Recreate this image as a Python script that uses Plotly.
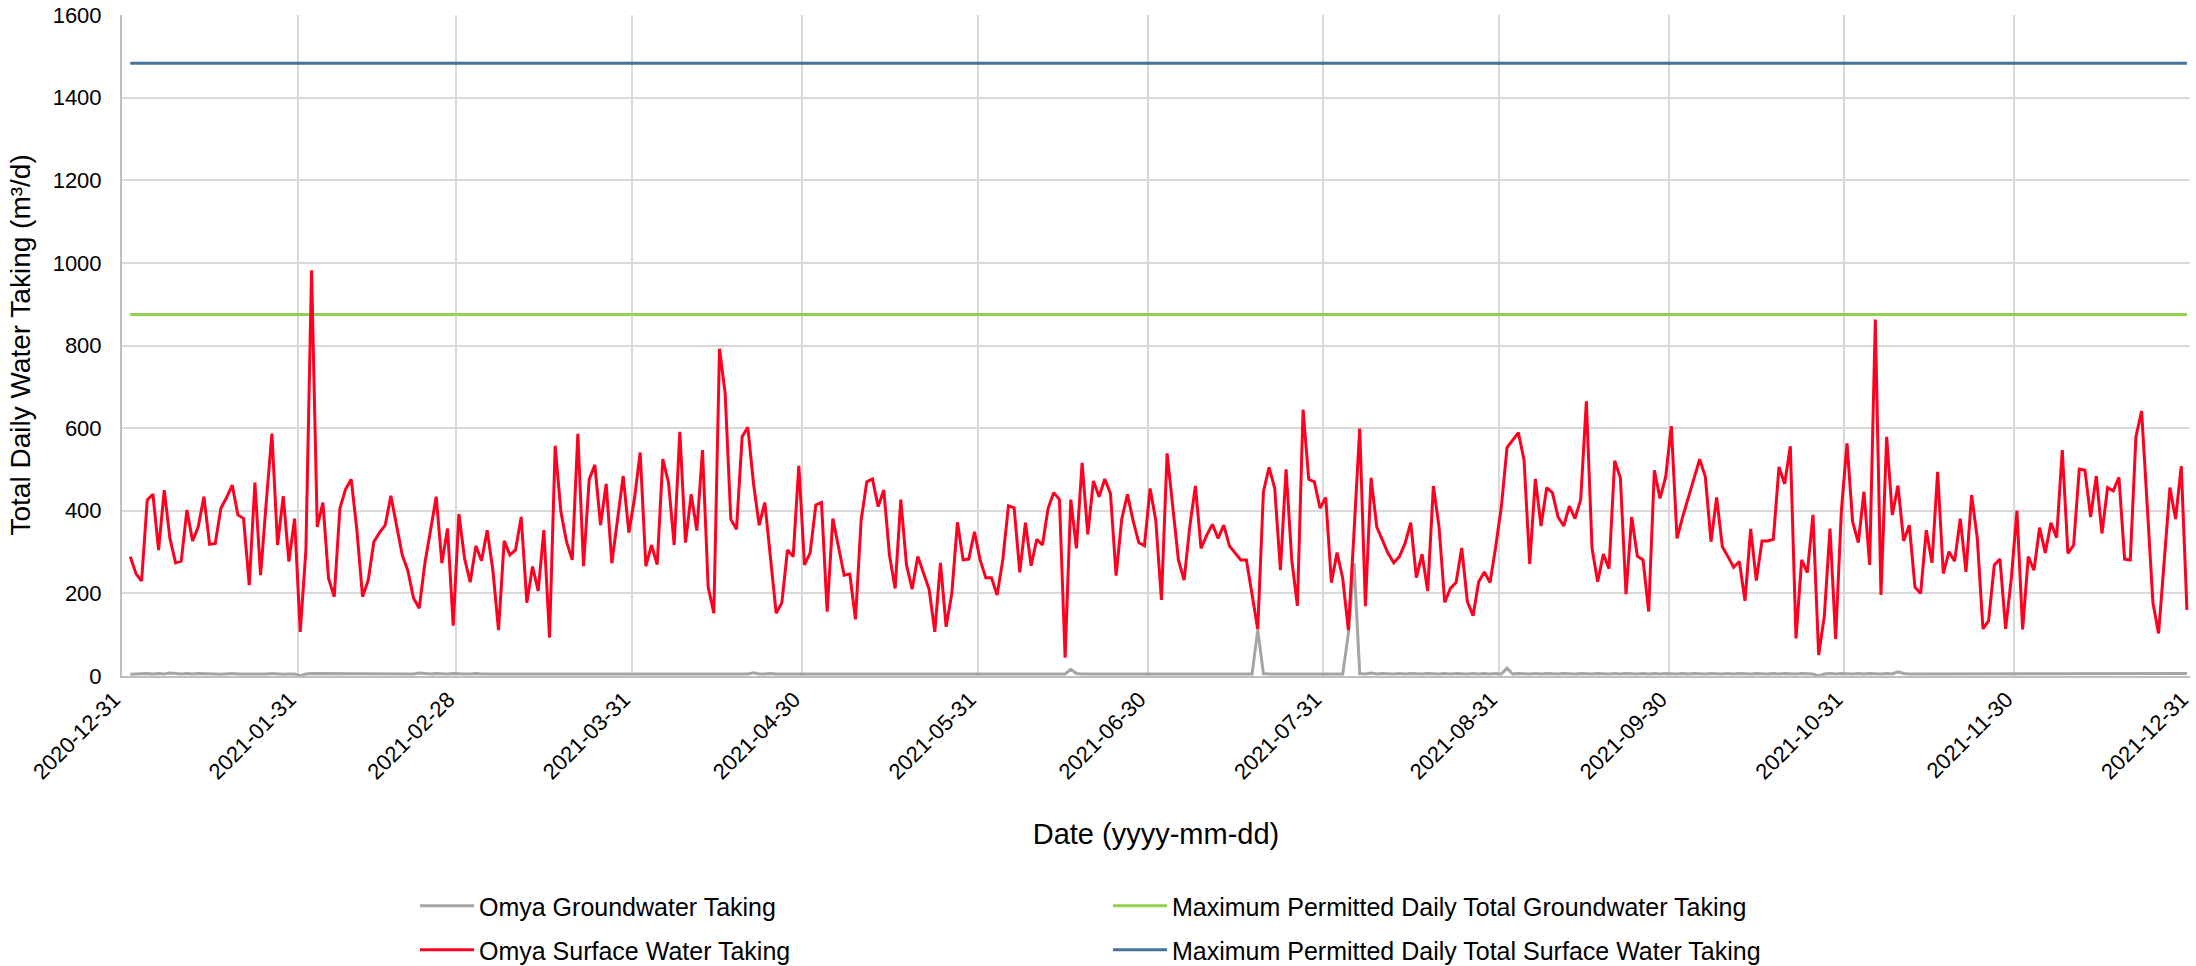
import pandas as pd
import plotly.graph_objects as go

# Daily surface water taking (m3/d), 2021-01-01 onward
surface = [
    289, 248, 230, 426, 440, 305, 450, 333, 274, 278, 402, 327, 361, 434, 319, 321, 406, 432, 462, 390, 381, 220, 468, 244, 420, 587, 317, 435, 277,
    381, 107, 305, 982, 361, 420, 236, 192, 406, 452, 476, 353, 192, 232, 325, 347, 365, 436, 361, 293, 255, 188, 164, 273, 353, 434, 273, 357, 122, 392,
    285, 227, 315, 279, 353, 256, 111, 327, 293, 305, 385, 177, 265, 206, 353, 93, 557, 398, 325, 281, 586, 266, 476, 511, 365, 465, 273, 377, 484, 347,
    430, 541, 266, 317, 270, 525, 468, 317, 591, 323, 440, 352, 547, 215, 152, 792, 684, 379, 355, 579, 602, 466, 365, 420, 289, 152, 177, 305, 289, 509, 269,
    298, 414, 420, 156, 381, 313, 244, 247, 137, 377, 470, 477, 410, 450, 293, 212, 427, 269, 210, 289, 250, 210, 107, 274, 119, 200, 372, 281, 283, 349,
    281, 238, 238, 196, 281, 412, 407, 251, 371, 267, 331, 317, 406, 444, 427, 44, 427, 309, 516, 343, 472, 434, 477, 442, 243, 380, 440, 376, 323, 315,
    454, 377, 184, 539, 410, 281, 232, 361, 460, 309, 341, 367, 333, 365, 315, 298, 281, 281, 200, 113, 446, 505, 454, 256, 500, 281, 170, 645, 476, 470,
    406, 432, 226, 299, 236, 111, 350, 599, 169, 480, 361, 329, 297, 274, 289, 321, 371, 238, 295, 206, 460, 361, 178, 212, 226, 310, 180, 146, 228, 252,
    226, 313, 410, 553, 571, 589, 523, 271, 477, 363, 456, 444, 385, 363, 411, 381, 427, 665, 309, 228, 295, 260, 521, 480, 198, 385, 290, 281, 156, 498,
    430, 482, 605, 333, 385, 432, 474, 525, 482, 325, 432, 313, 289, 263, 277, 182, 356, 231, 327, 327, 331, 506, 465, 556, 91, 281, 250, 390, 51, 145, 357,
    90, 398, 563, 373, 323, 446, 269, 863, 196, 579, 390, 461, 327, 365, 215, 200, 353, 274, 494, 248, 301, 278, 381, 252, 438, 333, 114, 134, 269, 283,
    114, 236, 400, 113, 289, 256, 359, 298, 371, 335, 547, 297, 317, 501, 498, 385, 484, 345, 456, 448, 481, 283, 281, 579, 641, 410, 177, 103, 285, 456,
    380, 508, 160,
]

# Daily groundwater taking (m3/d)
groundwater = [
    4, 5, 5, 6, 5, 6, 5, 7, 6, 5, 6, 5, 6, 6, 5, 5, 4, 5, 6, 5, 5, 4, 5, 5, 5, 6, 5, 4, 5,
    5, 1, 5, 6, 6, 5, 5, 6, 5, 5, 6, 5, 5, 6, 6, 5, 5, 6, 5, 5, 6, 5, 7, 6, 5, 6, 5, 5, 6, 5,
    5, 5, 6, 5, 5, 6, 5, 5, 6, 6, 5, 5, 6, 5, 5, 6, 5, 5, 6, 5, 6, 5, 5, 6, 5, 5, 6, 5, 6, 5,
    5, 6, 5, 5, 6, 5, 5, 6, 5, 6, 6, 5, 5, 6, 5, 5, 6, 5, 6, 5, 5, 8, 5, 5, 6, 5, 5, 6, 5, 5, 6,
    5, 6, 5, 5, 6, 5, 5, 6, 5, 5, 6, 5, 6, 5, 5, 6, 5, 6, 5, 5, 6, 5, 5, 6, 5, 5, 6, 5, 5, 6,
    5, 6, 5, 5, 6, 5, 6, 5, 5, 6, 5, 6, 5, 5, 6, 5, 16, 6, 5, 5, 6, 5, 5, 6, 5, 5, 6, 5, 5, 6,
    5, 6, 5, 5, 6, 5, 5, 6, 5, 6, 5, 5, 6, 5, 5, 6, 5, 6, 5, 111, 6, 5, 5, 6, 5, 6, 5, 5, 6, 5,
    5, 6, 5, 5, 5, 103, 273, 6, 5, 7, 5, 6, 5, 5, 6, 5, 6, 5, 5, 6, 5, 5, 6, 5, 6, 5, 5, 6, 5, 6,
    5, 6, 5, 19, 5, 6, 5, 5, 6, 5, 6, 5, 5, 6, 5, 5, 6, 5, 5, 6, 5, 5, 6, 5, 6, 5, 5, 6, 5, 6,
    5, 6, 5, 5, 6, 5, 6, 5, 5, 6, 5, 5, 6, 5, 6, 5, 5, 6, 5, 5, 6, 5, 6, 5, 5, 6, 5, 5, 0, 5, 6,
    5, 6, 5, 5, 6, 5, 6, 5, 5, 6, 5, 10, 6, 5, 5, 6, 5, 5, 6, 5, 5, 6, 5, 5, 6, 5, 5, 6, 5, 5,
    5, 6, 5, 5, 6, 5, 6, 5, 5, 6, 5, 5, 6, 5, 5, 6, 5, 6, 5, 5, 6, 5, 5, 6, 5, 5, 6, 5, 5, 6,
    5, 5, 6,
]

gw_limit = 875
sw_limit = 1483

tick_dates = ["2020-12-31", "2021-01-31", "2021-02-28", "2021-03-31", "2021-04-30", "2021-05-31",
              "2021-06-30", "2021-07-31", "2021-08-31", "2021-09-30", "2021-10-31", "2021-11-30",
              "2021-12-31"]

dates = pd.date_range("2021-01-01 11:00", periods=len(surface), freq="D")

FONT = "Liberation Sans, Arial, sans-serif"

W, H = 2196, 966
ML, MR, MT, MB = 122, 6, 15, 290
plot_w = W - ML - MR

fig = go.Figure()
fig.add_trace(go.Scatter(x=dates, y=groundwater, mode="lines", name="Omya Groundwater Taking",
                         line=dict(color="#A5A5A5", width=3), legend="legend"))
fig.add_trace(go.Scatter(x=[dates[0], dates[-1]], y=[gw_limit, gw_limit], mode="lines",
                         name="Maximum Permitted Daily Total Groundwater Taking",
                         line=dict(color="#92D050", width=3), legend="legend"))
fig.add_trace(go.Scatter(x=dates, y=surface, mode="lines", name="Omya Surface Water Taking",
                         line=dict(color="#FF0020", width=3), legend="legend2"))
fig.add_trace(go.Scatter(x=[dates[0], dates[-1]], y=[sw_limit, sw_limit], mode="lines",
                         name="Maximum Permitted Daily Total Surface Water Taking",
                         line=dict(color="#44749D", width=3), legend="legend2"))

legend_common = dict(orientation="h", xref="container", yref="container", xanchor="left",
                     yanchor="middle", x=415 / W, font=dict(family=FONT, size=25, color="#000"),
                     entrywidth=624, entrywidthmode="pixels", itemwidth=54,
                     bgcolor="rgba(0,0,0,0)", traceorder="normal")

fig.update_layout(
    width=W, height=H,
    margin=dict(l=ML, r=MR, t=MT, b=MB, autoexpand=False),
    plot_bgcolor="white", paper_bgcolor="white",
    font=dict(family=FONT, size=22, color="#000"),
    showlegend=True,
    legend=dict(**legend_common, y=1 - 906 / H),
    legend2=dict(**legend_common, y=1 - 950 / H),
    xaxis=dict(
        type="date", range=["2020-12-31", "2021-12-31"], automargin=False,
        tickmode="array", tickvals=tick_dates, ticktext=tick_dates, tickangle=-45,
        ticklabelshift=-8, ticklabeloverflow="allow",
        showgrid=True, gridcolor="#D9D9D9", gridwidth=2,
        showline=True, linecolor="#BFBFBF", linewidth=2,
        ticks="", tickfont=dict(family=FONT, size=22, color="#000"),
        title=dict(text="Date (yyyy-mm-dd)", font=dict(family=FONT, size=29, color="#000"), standoff=40),
        zeroline=False,
    ),
    yaxis=dict(
        range=[0, 1600], dtick=200, tickformat="d", automargin=False,
        showgrid=True, gridcolor="#D9D9D9", gridwidth=2,
        showline=True, linecolor="#BFBFBF", linewidth=2,
        ticks="", tickfont=dict(family=FONT, size=22, color="#000"), ticklabelstandoff=14,
        ticklabeloverflow="allow",
        zeroline=False,
    ),
    annotations=[dict(
        text="Total Daily Water Taking (m³/d)", textangle=-90, showarrow=False,
        xref="paper", yref="paper", x=(20 - ML) / plot_w, y=0.5,
        xanchor="center", yanchor="middle",
        font=dict(family=FONT, size=28, color="#000"),
    )],
)

fig.write_html("out.html",
               config={"displayModeBar": False},
               post_script="document.body.style.margin='0';document.body.style.overflow='hidden';")
